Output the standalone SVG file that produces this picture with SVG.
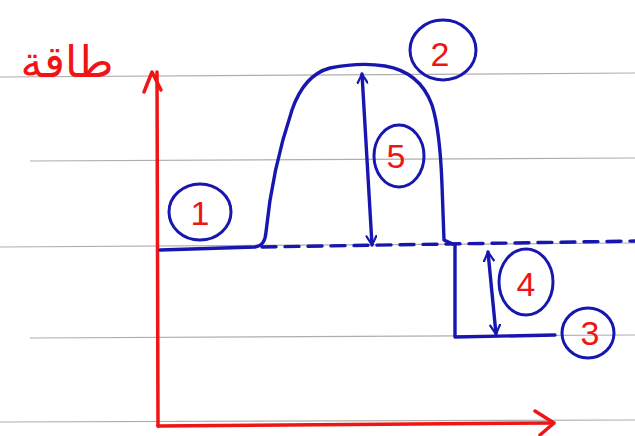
<svg xmlns="http://www.w3.org/2000/svg" width="635" height="436" viewBox="0 0 635 436">
<defs>
<style>
.rule{stroke:#9a9a9a;stroke-width:1.2;fill:none;opacity:0.8}
.axis{stroke:#f01414;stroke-width:3.5;fill:none;stroke-linecap:round;stroke-linejoin:round}
.curve{stroke:#1717b0;stroke-width:3.4;fill:none;stroke-linecap:round;stroke-linejoin:round}
.circ{stroke:#1717b0;stroke-width:3;fill:none}
.num{fill:#f01414;font-family:"Liberation Sans",Arial,sans-serif;font-size:34px;text-anchor:middle}
.lbl{fill:#f01414;font-family:"DejaVu Sans","Noto Sans",sans-serif;font-size:44px;text-anchor:middle}
</style>
<marker id="ah" viewBox="0 0 12 12" refX="10" refY="6" markerWidth="12" markerHeight="12" markerUnits="userSpaceOnUse" orient="auto-start-reverse">
<path d="M1,1 L10,6 L1,11" fill="none" stroke="#1717b0" stroke-width="2.2" stroke-linecap="round" stroke-linejoin="round"/>
</marker>
</defs>
<rect width="635" height="436" fill="#ffffff"/>
<g id="rules">
<line class="rule" x1="0" y1="77" x2="635" y2="73"/>
<line class="rule" x1="30" y1="161" x2="635" y2="158"/>
<line class="rule" x1="0" y1="247" x2="635" y2="243"/>
<line class="rule" x1="30" y1="338" x2="635" y2="335"/>
<line class="rule" x1="0" y1="422" x2="635" y2="420"/>
</g>
<g id="axes">
<path class="axis" d="M158,426 L157,72"/>
<path class="axis" d="M144,92 L152,72 L161,90"/>
<path class="axis" d="M158,426 L553,423"/>
<path class="axis" d="M535,411 L554,423 L540,435"/>
<text class="lbl" x="67" y="77">طاقة</text>
</g>
<g id="connectors">
<path class="curve" d="M160,250 L255,247 Q265,246 266,232 Q272,170 292,110 Q304,75 330,68 Q360,62 385,66 Q420,72 432,105 Q440,130 442,185 L444,240 L455,245 L455,337 L555,335"/>
<path class="curve" d="M262,247 L635,241" stroke-dasharray="14,9"/>
<line class="curve" x1="362" y1="74" x2="372" y2="245" marker-start="url(#ah)" marker-end="url(#ah)"/>
<line class="curve" x1="488" y1="252" x2="496" y2="334" marker-start="url(#ah)" marker-end="url(#ah)"/>
</g>
<g id="n1"><ellipse class="circ" cx="200" cy="212" rx="31" ry="28"/><text class="num" x="200" y="225">1</text></g>
<g id="n2"><ellipse class="circ" cx="443" cy="50" rx="33" ry="30"/><text class="num" x="440" y="66">2</text></g>
<g id="n5"><ellipse class="circ" cx="399" cy="156" rx="25" ry="31"/><text class="num" x="396" y="168">5</text></g>
<g id="n4"><ellipse class="circ" cx="526" cy="282" rx="27" ry="33"/><text class="num" x="526" y="296">4</text></g>
<g id="n3"><ellipse class="circ" cx="588" cy="333" rx="26" ry="25"/><text class="num" x="590" y="345">3</text></g>
</svg>
